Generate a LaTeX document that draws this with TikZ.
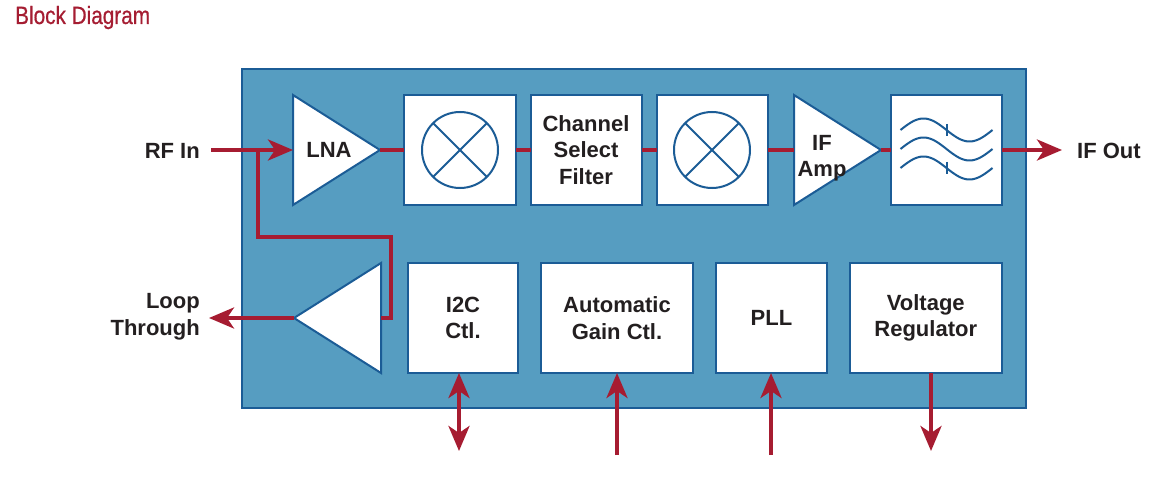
\documentclass[tikz,border=0pt]{standalone}
\usepackage{fontspec}
\usepackage{graphicx}
\setmainfont{Liberation Sans}
\newfontfamily\titlefont[FakeBold=0.6]{Liberation Sans}
\usetikzlibrary{arrows.meta,shapes.geometric}
\definecolor{chipfill}{HTML}{569DC1}
\definecolor{chipedge}{HTML}{1B5C96}
\definecolor{sigred}{HTML}{A61C31}
\definecolor{txtcol}{HTML}{231F20}
\definecolor{titlered}{HTML}{A51D32}
\newcommand\lblfont{\fontsize{22}{26.5}\selectfont\bfseries}
\begin{document}
\begin{tikzpicture}[x=1pt,y=-1pt,
  chip/.style={draw=chipedge, fill=chipfill, line width=2pt, inner sep=0pt, outer sep=0pt},
  blk/.style={draw=chipedge, fill=white, line width=2pt, inner sep=0pt, outer sep=0pt,
    minimum height=110pt, text=txtcol, font=\lblfont, align=center},
  amp/.style={isosceles triangle, isosceles triangle stretches, draw=chipedge, fill=white,
    line width=2pt, inner sep=0pt, outer sep=0pt, minimum width=110pt, minimum height=87pt},
  sym/.style={draw=chipedge, line width=2pt},
  sig/.style={draw=sigred, line width=4pt},
  sigtip/.style={-{Stealth[length=25pt,width=21pt,inset=7pt]}},
  sigboth/.style={{Stealth[length=25pt,width=21pt,inset=7pt]}-{Stealth[length=25pt,width=21pt,inset=7pt]}},
  lbltxt/.style={text=txtcol, font=\lblfont, inner sep=0pt}
]
\useasboundingbox (0,0) rectangle (1160,489);

% title
\node[anchor=base west, inner sep=0pt, text=titlered] (title) at (15,24)
  {\titlefont\fontsize{25}{30}\selectfont\scalebox{0.83}[1]{Block Diagram}};

% chip outline
\node[chip, minimum width=784pt, minimum height=339pt] (chip) at (634,238.5) {};

% amplifiers
\node[amp, anchor=apex] (lna) at (380,150) {};
\node[amp, anchor=apex] (ifamp) at (881,150) {};
\node[amp, shape border rotate=180, anchor=apex] (buf) at (294,318) {};
\node[lbltxt] (lnatxt) at (329,150) {LNA};
\node[lbltxt, align=center] (ifamptxt) at (822,158) {IF\\Amp};

% blocks
\node[blk, minimum width=112pt] (mixa) at (460,150) {};
\node[blk, minimum width=111pt] (csf) at (586,150) {Channel\\Select\\Filter};
\node[blk, minimum width=111pt] (mixb) at (712,150) {};
\node[blk, minimum width=111pt] (filt) at (946.5,150) {};
\node[blk, minimum width=110pt] (i2c) at (463,318) {I2C\\Ctl.};
\node[blk, minimum width=152pt] (agc) at (617,318) {Automatic\\Gain Ctl.};
\node[blk, minimum width=111pt] (pll) at (771.5,318) {PLL};
\node[blk, minimum width=152pt] (vr) at (925.75,318) {Voltage\\Regulator};

% mixer symbols
\foreach \m in {mixa,mixb}{
  \draw[sym] (\m.center) circle[radius=38pt];
  \draw[sym] ([shift={(-27,-27)}]\m.center) -- ([shift={(27,27)}]\m.center);
  \draw[sym] ([shift={(-27,27)}]\m.center) -- ([shift={(27,-27)}]\m.center);
}

% filter symbol
\begin{scope}[shift={(filt.center)}]
  \foreach \dy in {-20,-1,18}{
    \draw[sym] plot[domain=-46:46, samples=47, smooth] ({\x},{\dy - 11.5*sin((\x+46)/92*360)});
  }
  \draw[sym] (0,-26) -- (0,-14);
  \draw[sym] (0,12) -- (0,24);
\end{scope}

% outside labels
\node[lbltxt, anchor=east] (rfin) at (200,151) {RF In};
\node[lbltxt, anchor=east, align=right] (loop) at (200,317) {Loop\\Through};
\node[lbltxt, anchor=west] (ifout) at (1077,151) {IF Out};

% coordinates
\coordinate (rfstart) at (211,150);
\coordinate (junc) at (258,150);
\coordinate (bendb) at (391,237);
\coordinate (loopend) at (209,318);
\coordinate (ifend) at (1062,150);
\coordinate (i2cbot) at (459,451);
\coordinate (agcbot) at (617,455);
\coordinate (pllbot) at (771,455);
\coordinate (vrbot) at (931,451);

% signal path
\draw[sig, sigtip] (rfstart) -- (lna.lower side);
\draw[sig] (lna.apex) -- (mixa.west);
\draw[sig] (mixa.east) -- (csf.west);
\draw[sig] (csf.east) -- (mixb.west);
\draw[sig] (mixb.east) -- (ifamp.lower side);
\draw[sig] (ifamp.apex) -- (filt.west);
\draw[sig, sigtip] (filt.east) -- (ifend);

% loop through
\draw[sig] (junc) |- (bendb) |- (buf.lower side);
\draw[sig, sigtip] (buf.apex) -- (loopend);

% control arrows
\draw[sig, sigboth] (i2c.south -| i2cbot) -- (i2cbot);
\draw[sig, sigtip] (agcbot) -- (agc.south -| agcbot);
\draw[sig, sigtip] (pllbot) -- (pll.south -| pllbot);
\draw[sig, sigtip] (vr.south -| vrbot) -- (vrbot);
\end{tikzpicture}
\end{document}
